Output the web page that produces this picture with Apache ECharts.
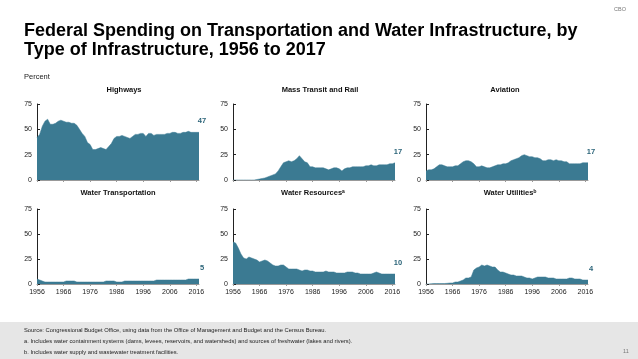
<!DOCTYPE html>
<html><head><meta charset="utf-8">
<script src="https://cdn.jsdelivr.net/npm/echarts@6/dist/echarts.min.js"></script>
<style>html,body{margin:0;padding:0;background:#fff}#c{width:638px;height:359px}</style>
</head><body><div id="c"></div>
<script>
var years = ["1956","1957","1958","1959","1960","1961","1962","1963","1964","1965","1966","1967","1968","1969","1970","1971","1972","1973","1974","1975","1976","1977","1978","1979","1980","1981","1982","1983","1984","1985","1986","1987","1988","1989","1990","1991","1992","1993","1994","1995","1996","1997","1998","1999","2000","2001","2002","2003","2004","2005","2006","2007","2008","2009","2010","2011","2012","2013","2014","2015","2016","2017"];
var yTicks = [0, 25, 50, 75];
var highways = [42,45,53,58,60,55,55,56,58,59,58,57,57,56,56,54,50,46,43,37,35,30,30,31,32,31,30,33,36,41,43,43,44,43,42,41,43,45,45,46,46,43,46,46,44,45,45,45,45,46,46,47,47,46,46,47,47,48,47,47,47,47];
var massTransit = [0,0,0,0,0,0,0,0,0,0.5,1,1.5,2,3,4,5,6,9,13,17,18,19,18,19,21,24,21,18,17,13,13,12,12,12,12,11,10,11,12,12,11,9,11,12,12,13,13,13,13,13,14,14,15,14,14,15,15,15,15,16,16,17];
var aviation = [9,10,10,11,13,15,15,14,13,13,13,14,14,16,18,19,19,18,16,13,13,14,13,12,12,13,14,15,15,16,16,17,19,20,21,22,24,25,24,23,23,22,22,21,19,19,20,20,19,20,19,19,18,18,16,16,16,16,16,17,17,17];
var waterTransport = [5,4,3,2,2,2,2,2,2,2,2,3,3,3,3,2,2,2,2,2,2,2,2,2,2,2,3,3,3,3,2,2,2,3,3,3,3,3,3,3,3,3,3,3,3,4,4,4,4,4,4,4,4,4,4,4,4,5,5,5,5,5];
var waterResources = [42,41,36,30,26,25,27,26,25,24,22,23,24,23,21,19,18,18,19,19,17,15,15,15,15,14,13,14,14,13,13,12,12,12,12,13,12,12,12,11,11,11,11,12,12,12,11,11,10,10,10,10,10,11,12,11,10,10,10,10,10,10];
var waterUtilities = [0,0,0.3,0.5,0.5,0.5,0.5,0.5,0.7,1,1,2,2,3,4,6,6,7,14,16,17,19,18,19,18,17,17,14,12,12,11,10,9,9,8,8,8,7,6,6,5,6,7,7,7,7,6,6,6,5,5,5,5,5,6,6,5,5,5,4,4,4];
var panelTitles = ["Highways","Mass Transit and Rail","Aviation","Water Transportation","Water Resources\u1d43","Water Utilities\u1d47"];
var panelData = [highways, massTransit, aviation, waterTransport, waterResources, waterUtilities];

var FILL = '#3b7a92';
var LBL = '#2a6378';
var FONT = 'Liberation Sans, Arial';
var lefts = [37, 233, 426];
var tops = [104, 209];
var titleX = [124, 320, 505, 118, 313, 510];
var titleY = [86, 189];

var grids = [], xAxes = [], yAxes = [], series = [], titles = [];
titles.push({text: 'Federal Spending on Transportation and Water Infrastructure, by\nType of Infrastructure, 1956 to 2017', left: 24, top: 21, padding: 0,
  textStyle: {fontFamily: FONT, fontSize: 18, fontWeight: 'bold', color: '#000', lineHeight: 19.5}});
titles.push({text: 'Percent', left: 24, top: 73, padding: 0, textStyle: {fontFamily: FONT, fontSize: 7.5, fontWeight: 'normal', color: '#222'}});
titles.push({text: 'CBO', left: 614, top: 6, padding: 0, textStyle: {fontFamily: FONT, fontSize: 5.5, fontWeight: 'normal', color: '#777'}});
for (var i = 0; i < 6; i++) {
  var r = Math.floor(i / 3), c = i % 3;
  grids.push({left: lefts[c], top: tops[r], width: 162, height: r === 0 ? 76 : 75, containLabel: false});
  xAxes.push({type: 'category', gridIndex: i, data: years, boundaryGap: false,
    axisLine: {show: true, lineStyle: {color: '#999', width: 1}},
    axisTick: {show: true, interval: 9, length: 2, lineStyle: {color: '#999'}},
    axisLabel: {show: r === 1, interval: 9, fontSize: 7, color: '#222', fontFamily: FONT, margin: 5},
    splitLine: {show: false}});
  yAxes.push({type: 'value', gridIndex: i, min: yTicks[0], max: yTicks[yTicks.length - 1], interval: 25,
    axisLine: {show: true, lineStyle: {color: '#222', width: 1}},
    axisTick: {show: true, inside: true, length: 3, lineStyle: {color: '#222'}},
    axisLabel: {fontSize: 7, color: '#222', fontFamily: FONT, margin: 5},
    splitLine: {show: false}});
  var d = panelData[i];
  series.push({type: 'line', xAxisIndex: i, yAxisIndex: i, data: d, symbol: 'none', smooth: false,
    lineStyle: {width: 0.5, color: FILL}, areaStyle: {color: FILL, opacity: 1},
    markPoint: {symbol: 'circle', symbolSize: 0, silent: true,
      data: [{coord: [d.length - 1, d[d.length - 1]], value: d[d.length - 1]}],
      label: {show: true, position: 'top', offset: [3, -2], formatter: '{c}', fontSize: 7.5, fontWeight: 'bold', color: LBL, fontFamily: FONT}}});
  titles.push({text: panelTitles[i], left: titleX[i], top: titleY[r], textAlign: 'center', padding: 0,
    textStyle: {fontFamily: FONT, fontSize: 7.5, fontWeight: 'bold', color: '#111'}});
}

var chart = echarts.init(document.getElementById('c'), null, {renderer: 'canvas'});
chart.setOption({
  animation: false,
  title: titles,
  grid: grids, xAxis: xAxes, yAxis: yAxes, series: series,
  graphic: [
    {type: 'rect', shape: {x: 0, y: 322, width: 638, height: 37}, style: {fill: '#e6e6e6'}, z: -1},
    {type: 'text', left: 24, top: 327, style: {text: 'Source: Congressional Budget Office, using data from the Office of Management and Budget and the Census Bureau.', fontSize: 5.8, fill: '#222', fontFamily: FONT}},
    {type: 'text', left: 24, top: 338, style: {text: 'a. Includes water containment systems (dams, levees, reservoirs, and watersheds) and sources of freshwater (lakes and rivers).', fontSize: 5.8, fill: '#222', fontFamily: FONT}},
    {type: 'text', left: 24, top: 349, style: {text: 'b. Includes water supply and wastewater treatment facilities.', fontSize: 5.8, fill: '#222', fontFamily: FONT}},
    {type: 'text', left: 623, top: 348, style: {text: '11', fontSize: 5.5, fill: '#777', fontFamily: FONT}}
  ]
});
</script></body></html>
